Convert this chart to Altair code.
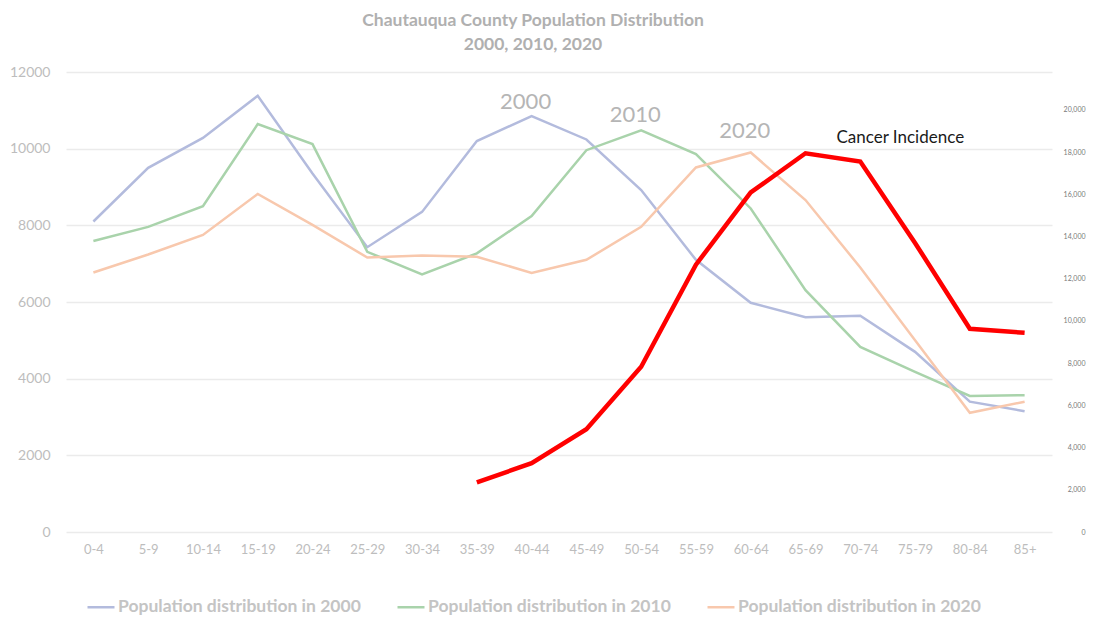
import altair as alt
import pandas as pd

ages = ["0-4", "5-9", "10-14", "15-19", "20-24", "25-29", "30-34", "35-39", "40-44",
        "45-49", "50-54", "55-59", "60-64", "65-69", "70-74", "75-79", "80-84", "85+"]

pop_2000 = [8100, 9500, 10280, 11380, 9350, 7430, 8350, 10200, 10850,
            10240, 8920, 7100, 5980, 5600, 5640, 4700, 3400, 3150]
pop_2010 = [7590, 7960, 8500, 10640, 10120, 7310, 6720, 7270, 8240,
            9960, 10480, 9860, 8440, 6310, 4830, 4180, 3550, 3570]
pop_2020 = [6770, 7240, 7750, 8820, 8010, 7160, 7210, 7180, 6760,
            7100, 7960, 9510, 9900, 8660, 6900, 5000, 3110, 3400]

cancer_ages = ["35-39", "40-44", "45-49", "50-54", "55-59", "60-64",
               "65-69", "70-74", "75-79", "80-84", "85+"]
cancer_vals = [2350, 3260, 4870, 7830, 12670, 16090, 17950, 17560, 13700, 9630, 9440]

series_names = ["Population distribution in 2000",
                "Population distribution in 2010",
                "Population distribution in 2020"]
series_colors = ["#b3bbdd", "#a9d3ab", "#f8c8ad"]

year_labels = ["2000", "2010", "2020"]
year_label_ages = ["40-44", "50-54", "60-64"]
year_label_vals = [11220, 10880, 10460]

cancer_label = ["Cancer Incidence"]
cancer_label_age = ["70-74"]
cancer_label_val = [10280]

rows = []
for name, vals in zip(series_names, [pop_2000, pop_2010, pop_2020]):
    for a, v in zip(ages, vals):
        rows.append({"age": a, "value": v, "series": name})
pop_df = pd.DataFrame(rows)
cancer_df = pd.DataFrame({"age": cancer_ages, "value": cancer_vals})
year_df = pd.DataFrame({"age": year_label_ages, "value": year_label_vals, "label": year_labels})
clab_df = pd.DataFrame({"age": cancer_label_age, "value": cancer_label_val, "label": cancer_label})

FONT = "Lato"

x_enc = alt.X("age:N", sort=ages, title=None,
              scale=alt.Scale(domain=ages, padding=0.5),
              axis=alt.Axis(labelAngle=0, labelFont=FONT, labelFontSize=13,
                            labelColor="#bdbdbd", ticks=False, domain=False,
                            labelPadding=11, grid=False))

y_left = alt.Y("value:Q", title=None,
               scale=alt.Scale(domain=[0, 12000], nice=False),
               axis=alt.Axis(values=[0, 2000, 4000, 6000, 8000, 10000, 12000],
                             format="d", labelFont=FONT, labelFontSize=14,
                             labelColor="#bdbdbd", ticks=False, domain=False,
                             labelPadding=16, gridColor="#ebebeb", gridWidth=1.5))

pop = alt.Chart(pop_df).mark_line(strokeWidth=2.5).encode(
    x=x_enc,
    y=y_left,
    color=alt.Color("series:N",
                    scale=alt.Scale(domain=series_names, range=series_colors),
                    legend=alt.Legend(title=None, orient="none", legendX=20, legendY=520,
                                      direction="horizontal", symbolType="stroke",
                                      symbolStrokeWidth=2.5, symbolSize=729,
                                      labelFont=FONT, labelFontSize=17.5,
                                      labelFontWeight="bold", labelColor="#c4c4c4",
                                      labelOffset=2, columnPadding=31, labelLimit=400)),
    detail="series:N",
)

year_text = alt.Chart(year_df).mark_text(font=FONT, fontSize=22, color="#b5b5b5",
                                         baseline="middle", dx=-6).encode(
    x=alt.X("age:N", sort=ages), y=alt.Y("value:Q"), text="label:N")

clab_text = alt.Chart(clab_df).mark_text(font=FONT, fontSize=17, color="#1a1a1a",
                                         baseline="middle", dx=40).encode(
    x=alt.X("age:N", sort=ages), y=alt.Y("value:Q"), text="label:N")

left = alt.layer(pop, year_text, clab_text)

cancer = alt.Chart(cancer_df).mark_line(strokeWidth=4.5, color="#ff0000").encode(
    x=alt.X("age:N", sort=ages),
    y=alt.Y("value:Q", title=None,
            scale=alt.Scale(domain=[0, 21800], nice=False),
            axis=alt.Axis(orient="right", values=list(range(0, 20001, 2000)),
                          format=",d", labelFont=FONT, labelFontSize=7,
                          labelColor="#7a7a7a", ticks=False, domain=False,
                          labelAlign="right", labelPadding=33, grid=False)),
)

chart = alt.layer(left, cancer).resolve_scale(y="independent").properties(
    width=986, height=460,
    background="white",
    autosize=alt.AutoSizeParams(type="none"),
    padding={"left": 58, "top": 64, "right": 40, "bottom": 90},
    title=alt.TitleParams(text=["Chautauqua County Population Distribution", "2000, 2010, 2020"],
                          font=FONT, fontSize=17.5, fontWeight="bold", color="#b0b0b0",
                          anchor="middle", dx=-26, offset=12, lineHeight=24),
).configure_view(stroke="transparent").configure_axis(
    domain=False, ticks=False
)

chart.save("out.html", embed_options={"renderer": "svg", "actions": False})
